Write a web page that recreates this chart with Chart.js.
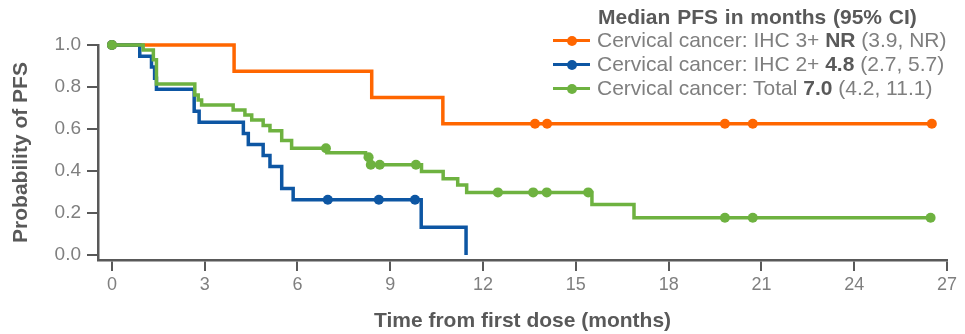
<!DOCTYPE html>
<html>
<head>
<meta charset="utf-8">
<title>PFS by HER2 IHC - cervical cancer</title>
<script src="https://cdn.jsdelivr.net/npm/chart.js@4.4.1/dist/chart.umd.min.js"></script>
<style>
  html, body { margin: 0; padding: 0; background: #fff; }
  #wrap { position: relative; width: 965px; height: 334px; }
  #legend {
    position: absolute; left: 553px; top: 5px;
    font-family: 'Liberation Sans', Arial, sans-serif;
    font-size: 21px; color: #7f7f7f; white-space: nowrap;
  }
  #legend .title { height: 23px; line-height: 23px; padding-left: 45px; font-weight: bold; color: #595959; word-spacing: 1px; }
  #legend .row { height: 24px; line-height: 24px; display: flex; align-items: center; }
  #legend .swatch { position: relative; width: 37px; height: 24px; margin-right: 7px; flex: none; }
  #legend .swatch::before { content: ''; position: absolute; left: 0; right: 0; top: 10.5px; height: 3.5px; background: var(--c); }
  #legend .swatch i { position: absolute; left: 13.5px; top: 7.5px; width: 10px; height: 10px; border-radius: 50%; background: var(--c); }
  #legend b { color: #595959; }
</style>
</head>
<body>
<div id="wrap">
  <canvas id="km" width="965" height="334"></canvas>
  <div id="legend"></div>
</div>
<script>
// --- dados ---
const xTicks = [0, 3, 6, 9, 12, 15, 18, 21, 24, 27];
const yTicks = [0, 0.2, 0.4, 0.6, 0.8, 1.0];

const legendTitle = 'Median PFS in months (95% CI)';
const seriesNames = ['Cervical cancer: IHC 3+', 'Cervical cancer: IHC 2+', 'Cervical cancer: Total'];
const medianPfs = ['NR', '4.8', '7.0'];
const medianCi = ['(3.9, NR)', '(2.7, 5.7)', '(4.2, 11.1)'];
const seriesColors = ['#ff6600', '#0d56a3', '#6eb240'];

// IHC 3+ (laranja): tempos dos eventos e probabilidade depois de cada um
const ihc3Times = [0, 3.95, 8.4, 10.7];
const ihc3Surv = [1, 0.875, 0.75, 0.625];
const ihc3Censored = [13.68, 14.07, 19.82, 20.72, 26.51];

// IHC 2+ (azul)
const ihc2Times = [0, 0.9, 1.28, 1.38, 1.44, 2.66, 2.82, 4.25, 4.41, 4.89, 5.11, 5.49, 5.86, 10.0, 11.45];
const ihc2Surv = [1, 0.947, 0.895, 0.842, 0.789, 0.684, 0.632, 0.579, 0.526, 0.474, 0.421, 0.316, 0.263, 0.132, 0];
const ihc2Censored = [6.98, 8.63, 9.8];

// Total (verde)
const totalTimes = [0, 1.01, 1.34, 1.44, 2.68, 2.79, 2.9, 3.92, 4.3, 4.52, 4.89, 5.11, 5.49, 5.81, 6.95, 8.2, 8.35, 10.01, 10.71, 11.18, 11.47, 15.52, 16.88];
const totalSurv = [1, 0.976, 0.93, 0.814, 0.762, 0.738, 0.714, 0.69, 0.667, 0.643, 0.617, 0.592, 0.545, 0.508, 0.487, 0.465, 0.43, 0.398, 0.363, 0.333, 0.298, 0.24, 0.177];
const totalCensored = [6.92, 8.3, 8.37, 8.66, 9.83, 12.48, 13.62, 14.06, 15.4, 19.82, 20.72, 26.47];

/**
 * Junta eventos e censuras numa lista de pontos para a curva em degrau.
 * A censura herda a probabilidade do último evento antes dela.
 */
function kmPoints(times, surv, censored) {
  const pts = times.map((t, i) => ({ x: t, y: surv[i], mark: i === 0 }));
  censored.forEach(t => {
    let s = surv[0];
    times.forEach((et, i) => { if (et <= t) s = surv[i]; });
    pts.push({ x: t, y: s, mark: true });
  });
  return pts.sort((a, b) => a.x - b.x);
}

const curves = [
  kmPoints(ihc3Times, ihc3Surv, ihc3Censored),
  kmPoints(ihc2Times, ihc2Surv, ihc2Censored),
  kmPoints(totalTimes, totalSurv, totalCensored)
];

const axisColor = '#595959';
const tickColor = '#7f7f7f';
const fontFamily = "'Liberation Sans', Arial, sans-serif";

// legenda em HTML (texto com partes em negrito)
const htmlLegend = {
  id: 'htmlLegend',
  afterUpdate(chart) {
    const box = document.getElementById('legend');
    box.innerHTML = '';
    const title = document.createElement('div');
    title.className = 'title';
    title.textContent = legendTitle;
    box.appendChild(title);
    chart.data.datasets.forEach((ds, i) => {
      const row = document.createElement('div');
      row.className = 'row';
      const sw = document.createElement('span');
      sw.className = 'swatch';
      sw.style.setProperty('--c', ds.borderColor);
      sw.appendChild(document.createElement('i'));
      const txt = document.createElement('span');
      txt.appendChild(document.createTextNode(ds.label + ' '));
      const b = document.createElement('b');
      b.textContent = medianPfs[i];
      txt.appendChild(b);
      txt.appendChild(document.createTextNode(' ' + medianCi[i]));
      row.appendChild(sw);
      row.appendChild(txt);
      box.appendChild(row);
    });
  }
};

new Chart(document.getElementById('km'), {
  type: 'line',
  data: {
    datasets: curves.map((pts, i) => ({
      label: seriesNames[i],
      data: pts,
      borderColor: seriesColors[i],
      backgroundColor: seriesColors[i],
      pointBackgroundColor: seriesColors[i],
      pointBorderWidth: 0,
      pointRadius: ctx => (ctx.raw && ctx.raw.mark ? 5 : 0),
      borderWidth: 3.5,
      stepped: 'before',
      fill: false,
      clip: false,
      order: 2 - i // verde por cima
    }))
  },
  plugins: [htmlLegend],
  options: {
    responsive: false,
    animation: false,
    events: [],
    layout: { padding: { top: 45, right: 18, left: 0, bottom: 0 } },
    plugins: {
      legend: { display: false },
      tooltip: { enabled: false }
    },
    scales: {
      x: {
        type: 'linear',
        min: -0.45,
        max: 27,
        afterBuildTicks: s => { s.ticks = xTicks.map(v => ({ value: v })); },
        afterFit: s => { s.height = 74; },
        grid: { drawOnChartArea: false, drawTicks: true, tickLength: 11, tickColor: axisColor, lineWidth: 2 },
        border: { color: axisColor, width: 2.5 },
        ticks: { color: tickColor, font: { family: fontFamily, size: 18 }, padding: 3, maxRotation: 0, autoSkip: false },
        title: {
          display: true,
          text: 'Time from first dose (months)',
          color: axisColor,
          font: { family: fontFamily, size: 21, weight: 'bold' },
          padding: { top: 1, bottom: 0 }
        }
      },
      y: {
        min: -0.024,
        max: 1.0,
        afterBuildTicks: s => { s.ticks = yTicks.map(v => ({ value: v })); },
        afterFit: s => { s.width = 98; },
        grid: { drawOnChartArea: false, drawTicks: true, tickLength: 11, tickColor: axisColor, lineWidth: 2 },
        border: { color: axisColor, width: 2.5 },
        ticks: { color: tickColor, font: { family: fontFamily, size: 19 }, padding: 6, callback: v => v.toFixed(1) },
        title: {
          display: true,
          text: 'Probability of PFS',
          color: axisColor,
          font: { family: fontFamily, size: 21, weight: 'bold' },
          padding: { top: 9, bottom: 0 }
        }
      }
    }
  }
});
</script>
</body>
</html>
